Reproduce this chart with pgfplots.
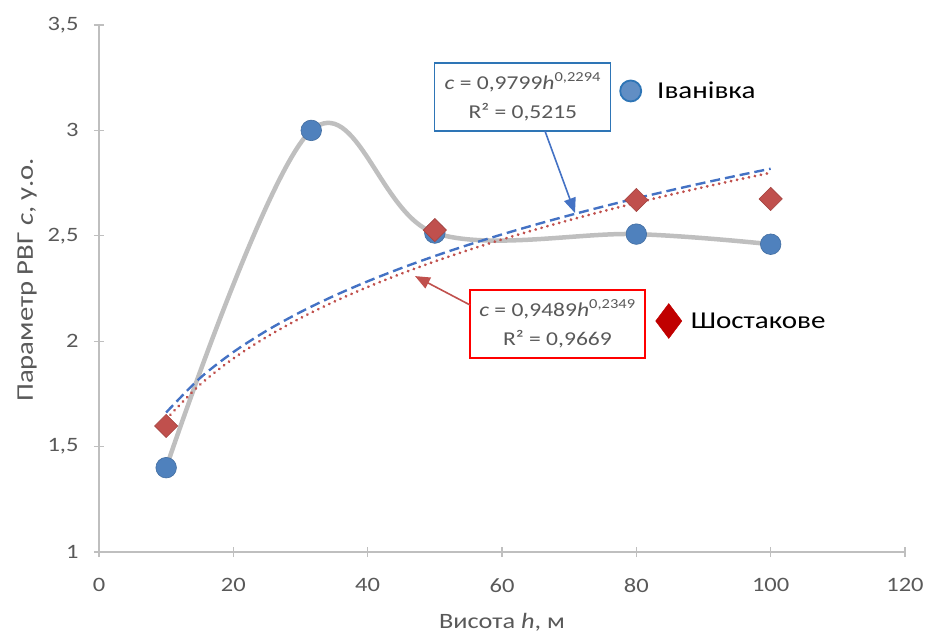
\documentclass[border=0pt]{standalone}
\usepackage{pgfplots}
\pgfplotsset{compat=1.18}
\usepackage{fontspec}
\setmainfont[FakeStretch=1.2]{Carlito}
\usetikzlibrary{arrows.meta}
\definecolor{txtgray}{HTML}{595959}
\definecolor{axgray}{HTML}{BFBFBF}
\definecolor{curvegray}{HTML}{BFBFBF}
\definecolor{ptblue}{HTML}{4F81BD}
\definecolor{ptred}{HTML}{C0504D}
\definecolor{trblue}{HTML}{4472C4}
\definecolor{trred}{HTML}{C0504D}
\definecolor{boxblue}{HTML}{2E75B6}
\definecolor{legred}{HTML}{C00000}
\begin{document}
\begin{tikzpicture}
\pgfplotsset{
  base/.style={
    width=806bp, height=527bp, scale only axis,
    xmin=0, xmax=120, ymin=1, ymax=3.5,
  }
}
\begin{axis}[base,
  axis lines*=left,
  axis line style={axgray, line width=1.3bp},
  xtick={0,20,...,120},
  ytick={1,1.5,...,3.5},
  tick style={axgray, line width=1.3bp},
  major tick length=10bp,
  tick align=center,
  /pgf/number format/assume math mode=true,
  yticklabel style={/pgf/number format/use comma, /pgf/number format/fixed, font=\fontsize{20.5}{24}\selectfont, text=txtgray, xshift=-12bp},
  xticklabel style={font=\fontsize{20.5}{24}\selectfont, text=txtgray, yshift=-18bp},
  xlabel={Висота \textit{h}, м},
  ylabel={Параметр РВГ \textit{c}, у.о.},
  every axis x label/.style={at={(rel axis cs:0.5,-0.1328)}, anchor=center, font=\fontsize{22}{26}\selectfont, text=txtgray},
  every axis y label/.style={at={(rel axis cs:-0.0893,0.516)}, anchor=center, rotate=90, font=\fontsize{24}{28}\selectfont, text=txtgray},
  clip=false,
]
\coordinate (SW) at (rel axis cs:0,0);
\coordinate (NE) at (rel axis cs:1,1);
% smooth gray curve through Ivanivka points
\addplot[curvegray, line width=4.5bp, smooth, tension=0.6] coordinates {
 (10,1.40) (31.6,3.00) (50,2.513) (80,2.508) (100,2.46)};
% trend Ivanivka (blue dashed)
\addplot[trblue, line width=2.4bp, dash pattern=on 10bp off 5bp, smooth] coordinates {
 (10,1.6619) (15,1.8239) (20,1.9483) (25,2.0506) (30,2.1382) (35,2.2152)
 (40,2.2840) (45,2.3466) (50,2.4040) (55,2.4571) (60,2.5066) (65,2.5530)
 (70,2.5968) (75,2.6383) (80,2.6777) (85,2.7151) (90,2.7510) (95,2.7853) (100,2.8183)};
% trend Shostakove (red dotted)
\addplot[trred, line width=3bp, line cap=round, dash pattern=on 0.1bp off 6bp, smooth] coordinates {
 (10,1.6298) (15,1.7926) (20,1.9179) (25,2.0211) (30,2.1096) (35,2.1874)
 (40,2.2571) (45,2.3203) (50,2.3785) (55,2.4324) (60,2.4826) (65,2.5297)
 (70,2.5742) (75,2.6162) (80,2.6563) (85,2.6943) (90,2.7307) (95,2.7656) (100,2.7991)};
% Ivanivka points
\addplot[only marks, mark=*, mark size=10.3bp, mark options={fill=ptblue, draw=ptblue!85!black, line width=0.6bp}] coordinates {
 (10,1.40) (31.6,3.00) (50,2.513) (80,2.508) (100,2.46)};
% Shostakove points
\addplot[only marks, mark=square*, mark size=8.2bp, mark options={rotate=45, fill=ptred, draw=ptred!85!black, line width=0.6bp}] coordinates {
 (10,1.598) (50,2.527) (80,2.67) (100,2.675)};
% annotation boxes
\node[draw=boxblue, line width=1.3bp, fill=white, minimum width=176bp, minimum height=68bp, align=center, inner sep=2bp,
  font=\fontsize{19.7}{30}\selectfont, text=txtgray] (bb) at (axis cs:63.1,3.158)
  {\textit{c} = 0,9799\textit{h}\textsuperscript{0,2294}\\R² = 0,5215};
\draw[trblue, line width=1.6bp, -{Triangle[length=15bp, width=12bp]}] (axis cs:66.4,2.997) -- (axis cs:70.87,2.608);
\node[draw=red, line width=1.3bp, fill=white, minimum width=175bp, minimum height=68bp, align=center, inner sep=2bp,
  font=\fontsize{19.7}{30}\selectfont, text=txtgray] (rb) at (axis cs:68.26,2.0816)
  {\textit{c} = 0,9489\textit{h}\textsuperscript{0,2349}\\R² = 0,9669};
\draw[ptred, line width=1.6bp, -{Triangle[length=15bp, width=12bp]}] (axis cs:55.23,2.172) -- (axis cs:47.04,2.309);
\end{axis}
% legend 1
\begin{axis}[base, hide axis,
  legend style={draw=none, fill=none, inner sep=0pt, at={(rel axis cs:0.6464,0.8748)}, anchor=west,
    font=\fontsize{24.3}{28}\selectfont, cells={anchor=west}},
  legend image code/.code={\draw[#1] plot coordinates {(0bp,0bp)}; \path[draw=none, fill=none] (-10.5bp,0bp) (24.5bp,0bp);},
]
\addlegendimage{only marks, mark=*, mark size=10.5bp, mark options={fill=ptblue!90!white, draw=boxblue, line width=1.8bp}}
\addlegendentry{Іванівка}
\end{axis}
% legend 2
\begin{axis}[base, hide axis,
  legend style={draw=none, fill=none, inner sep=0pt, at={(rel axis cs:0.6904,0.4383)}, anchor=west,
    font=\fontsize{24.3}{28}\selectfont, cells={anchor=west}},
  legend image code/.code={\draw[#1] plot coordinates {(0bp,0bp)}; \path[draw=none, fill=none] (-11.5bp,0bp) (20bp,0bp);},
]
\addlegendimage{only marks, mark=diamond*, mark size=17.5bp, mark options={fill=legred, draw=legred}}
\addlegendentry{Шостакове}
\end{axis}
\pgfresetboundingbox
\path ([shift={(-99bp,-85bp)}]SW) rectangle ([shift={(21bp,25bp)}]NE);
\end{tikzpicture}
\end{document}
